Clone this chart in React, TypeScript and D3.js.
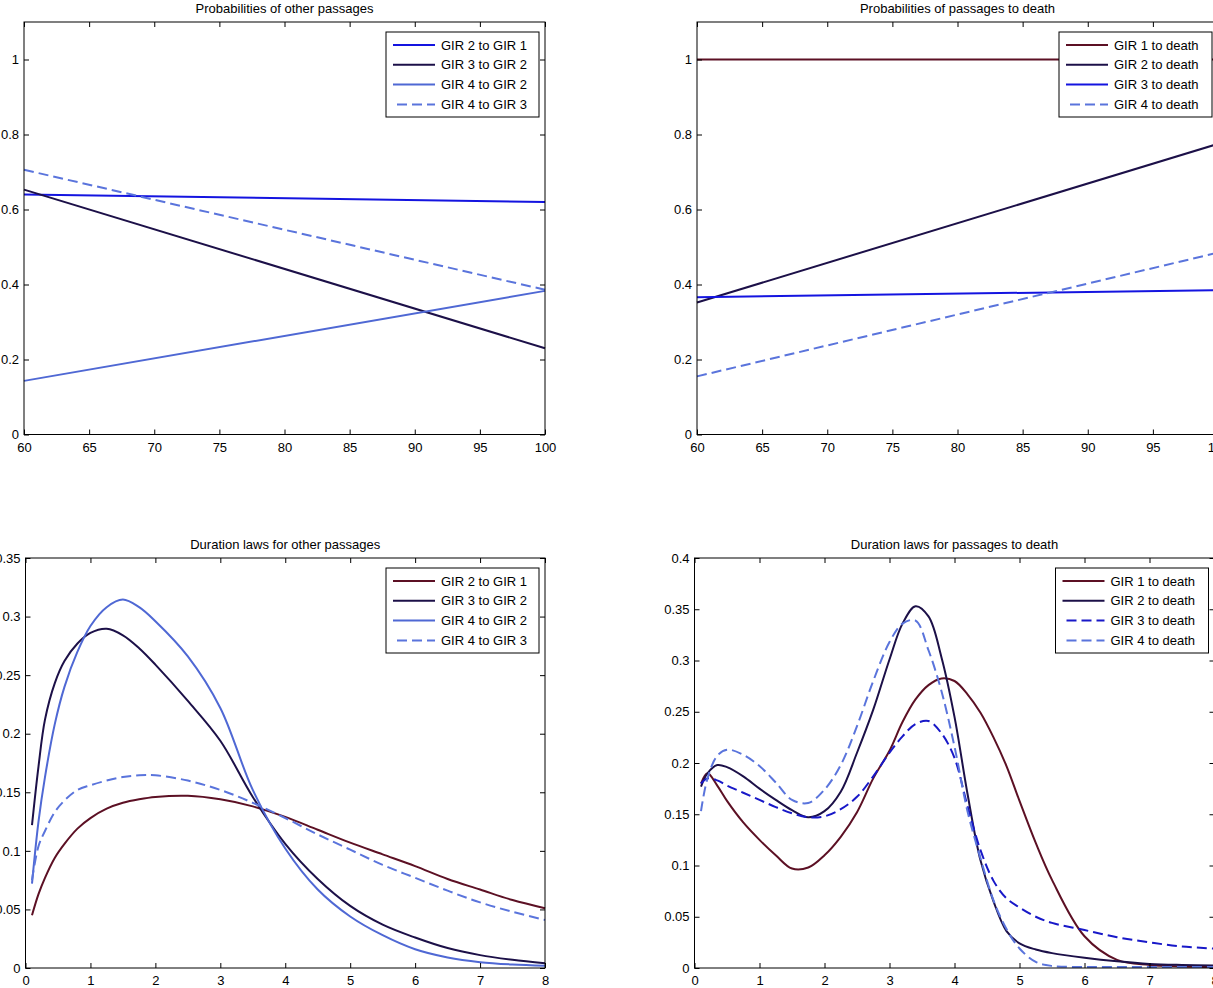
import React, { useEffect, useRef } from "react";
import * as d3 from "d3";

// ages (years) for the probability panels
const ageX = [60, 100];
const ageTicks = [60, 65, 70, 75, 80, 85, 90, 95, 100];
const probTicks = [0, 0.2, 0.4, 0.6, 0.8, 1];

const otherLabels = ["GIR 2 to GIR 1", "GIR 3 to GIR 2", "GIR 4 to GIR 2", "GIR 4 to GIR 3"];
const deathLabels = ["GIR 1 to death", "GIR 2 to death", "GIR 3 to death", "GIR 4 to death"];

const otherProb21 = [0.64, 0.62];
const otherProb32 = [0.653, 0.23];
const otherProb42 = [0.143, 0.383];
const otherProb43 = [0.706, 0.386];

const deathProb1 = [1, 1];
const deathProb2 = [0.352, 0.775];
const deathProb3 = [0.366, 0.385];
const deathProb4 = [0.155, 0.485];

// durations (years)
const durTicks = [0, 1, 2, 3, 4, 5, 6, 7, 8];
const otherDurTicks = [0, 0.05, 0.1, 0.15, 0.2, 0.25, 0.3, 0.35];
const deathDurTicks = [0, 0.05, 0.1, 0.15, 0.2, 0.25, 0.3, 0.35, 0.4];

const otherDurX = [0.1, 0.2, 0.3, 0.45, 0.6, 0.8, 1, 1.25, 1.5, 1.75, 2, 2.5, 3, 3.5, 4, 4.5, 5, 5.5, 6, 6.5, 7, 7.5, 8];
const otherDur21 = [0.045, 0.063, 0.077, 0.094, 0.106, 0.119, 0.128, 0.136, 0.141, 0.144, 0.146, 0.147, 0.144, 0.138, 0.129, 0.118, 0.107, 0.097, 0.087, 0.076, 0.067, 0.058, 0.051];
const otherDur32 = [0.122, 0.172, 0.212, 0.243, 0.262, 0.277, 0.286, 0.2895, 0.284, 0.273, 0.259, 0.228, 0.194, 0.146, 0.106, 0.076, 0.053, 0.037, 0.026, 0.017, 0.011, 0.007, 0.004];
const otherDur42 = [0.072, 0.125, 0.163, 0.208, 0.24, 0.27, 0.292, 0.308, 0.3145, 0.308, 0.296, 0.266, 0.222, 0.152, 0.102, 0.067, 0.044, 0.028, 0.016, 0.009, 0.005, 0.003, 0.002];
const otherDur43 = [0.075, 0.104, 0.117, 0.133, 0.143, 0.152, 0.156, 0.16, 0.163, 0.1645, 0.1645, 0.16, 0.152, 0.141, 0.128, 0.114, 0.101, 0.088, 0.077, 0.066, 0.056, 0.048, 0.041];

const deathDurX = [0.1, 0.2, 0.35, 0.5, 0.75, 1, 1.25, 1.5, 1.75, 2, 2.25, 2.5, 2.75, 3, 3.2, 3.4, 3.6, 3.8, 4, 4.2, 4.4, 4.6, 4.8, 5, 5.25, 5.5, 6, 6.5, 7, 7.5, 8];
const deathDur1 = [0.18, 0.19, 0.178, 0.163, 0.142, 0.125, 0.11, 0.097, 0.098, 0.11, 0.128, 0.152, 0.185, 0.212, 0.24, 0.262, 0.276, 0.2825, 0.28, 0.267, 0.249, 0.225, 0.197, 0.163, 0.122, 0.086, 0.031, 0.008, 0.003, 0.0015, 0.001];
const deathDur2 = [0.177, 0.19, 0.198, 0.196, 0.187, 0.175, 0.164, 0.154, 0.147, 0.153, 0.172, 0.21, 0.252, 0.301, 0.336, 0.353, 0.343, 0.303, 0.245, 0.17, 0.105, 0.065, 0.036, 0.024, 0.018, 0.0145, 0.01, 0.0065, 0.004, 0.003, 0.0025];
const deathDur3 = [0.18, 0.185, 0.183, 0.178, 0.171, 0.164, 0.157, 0.151, 0.147, 0.148, 0.155, 0.167, 0.187, 0.21, 0.226, 0.238, 0.241, 0.229, 0.205, 0.158, 0.115, 0.085, 0.068, 0.059, 0.05, 0.044, 0.037, 0.03, 0.025, 0.021, 0.019];
const deathDur4 = [0.153, 0.185, 0.207, 0.213, 0.208, 0.197, 0.181, 0.164, 0.161, 0.174, 0.198, 0.236, 0.28, 0.318, 0.336, 0.339, 0.31, 0.27, 0.216, 0.153, 0.107, 0.066, 0.038, 0.019, 0.006, 0.002, 0.001, 0.001, 0.001, 0.001, 0.001];

const FONT = '"Liberation Sans", Arial, Helvetica, sans-serif';
const MAROON = "#5c1024";
const DARK = "#1c1048";
const BLUE = "#1414e0";
const SLATE = "#4f68d4";
const LIGHT = "#5a74dc";
const DBLUE = "#1818c8";

const panels = [
  {
    title: "Probabilities of other passages",
    left: 24, right: 545, top: 22, bottom: 434.5,
    xDomain: [60, 100], yDomain: [0, 1.1], xTicks: ageTicks, yTicks: probTicks,
    series: [
      { label: otherLabels[0], xs: ageX, ys: otherProb21, color: BLUE, dash: false },
      { label: otherLabels[1], xs: ageX, ys: otherProb32, color: DARK, dash: false },
      { label: otherLabels[2], xs: ageX, ys: otherProb42, color: SLATE, dash: false },
      { label: otherLabels[3], xs: ageX, ys: otherProb43, color: LIGHT, dash: true },
    ],
  },
  {
    title: "Probabilities of passages to death",
    left: 697, right: 1218, top: 22, bottom: 434.5,
    xDomain: [60, 100], yDomain: [0, 1.1], xTicks: ageTicks, yTicks: probTicks,
    series: [
      { label: deathLabels[0], xs: ageX, ys: deathProb1, color: MAROON, dash: false },
      { label: deathLabels[1], xs: ageX, ys: deathProb2, color: DARK, dash: false },
      { label: deathLabels[2], xs: ageX, ys: deathProb3, color: BLUE, dash: false },
      { label: deathLabels[3], xs: ageX, ys: deathProb4, color: LIGHT, dash: true },
    ],
  },
  {
    title: "Duration laws for other passages",
    left: 25.5, right: 545, top: 558, bottom: 968,
    xDomain: [0, 8], yDomain: [0, 0.35], xTicks: durTicks, yTicks: otherDurTicks,
    series: [
      { label: otherLabels[0], xs: otherDurX, ys: otherDur21, color: MAROON, dash: false },
      { label: otherLabels[1], xs: otherDurX, ys: otherDur32, color: DARK, dash: false },
      { label: otherLabels[2], xs: otherDurX, ys: otherDur42, color: SLATE, dash: false },
      { label: otherLabels[3], xs: otherDurX, ys: otherDur43, color: LIGHT, dash: true },
    ],
  },
  {
    title: "Duration laws for passages to death",
    left: 694.5, right: 1214.5, top: 558, bottom: 968,
    xDomain: [0, 8], yDomain: [0, 0.4], xTicks: durTicks, yTicks: deathDurTicks,
    series: [
      { label: deathLabels[0], xs: deathDurX, ys: deathDur1, color: MAROON, dash: false },
      { label: deathLabels[1], xs: deathDurX, ys: deathDur2, color: DARK, dash: false },
      { label: deathLabels[2], xs: deathDurX, ys: deathDur3, color: DBLUE, dash: true },
      { label: deathLabels[3], xs: deathDurX, ys: deathDur4, color: LIGHT, dash: true },
    ],
  },
];

function drawPanel(svg: any, p: any) {
  const x = d3.scaleLinear().domain(p.xDomain).range([p.left, p.right]);
  const y = d3.scaleLinear().domain(p.yDomain).range([p.bottom, p.top]);
  const g = svg.append("g");

  // curves
  p.series.forEach((s: any) => {
    const line = d3
      .line<number>()
      .x((d, i) => x(s.xs[i]))
      .y((d) => y(d))
      .curve(d3.curveCatmullRom.alpha(0.5));
    g.append("path")
      .attr("d", line(s.ys))
      .attr("fill", "none")
      .attr("stroke", s.color)
      .attr("stroke-width", 2)
      .attr("stroke-dasharray", s.dash ? "10,5" : null);
  });

  const fmt = (d: any) => String(d);
  const styleAxis = (a: any) => {
    a.select(".domain").remove();
    a.attr("font-family", FONT).attr("font-size", 13);
    a.selectAll("line").attr("stroke", "#000");
    a.selectAll("text").attr("fill", "#000");
  };

  g.append("g")
    .attr("transform", `translate(0,${p.bottom})`)
    .call(d3.axisBottom(x).tickValues(p.xTicks).tickFormat(fmt).tickSize(-5).tickSizeOuter(0).tickPadding(8))
    .call(styleAxis);
  g.append("g")
    .attr("transform", `translate(0,${p.top})`)
    .call(d3.axisTop(x).tickValues(p.xTicks).tickFormat(() => "").tickSize(-5).tickSizeOuter(0))
    .call(styleAxis);
  g.append("g")
    .attr("transform", `translate(${p.left},0)`)
    .call(d3.axisLeft(y).tickValues(p.yTicks).tickFormat(fmt).tickSize(-5).tickSizeOuter(0).tickPadding(5))
    .call(styleAxis);
  g.append("g")
    .attr("transform", `translate(${p.right},0)`)
    .call(d3.axisRight(y).tickValues(p.yTicks).tickFormat(() => "").tickSize(-5).tickSizeOuter(0))
    .call(styleAxis);

  g.append("rect")
    .attr("x", p.left)
    .attr("y", p.top)
    .attr("width", p.right - p.left)
    .attr("height", p.bottom - p.top)
    .attr("fill", "none")
    .attr("stroke", "#000")
    .attr("stroke-width", 1);

  g.append("text")
    .attr("x", (p.left + p.right) / 2)
    .attr("y", p.top - 9.5)
    .attr("text-anchor", "middle")
    .attr("font-family", FONT)
    .attr("font-size", 13)
    .text(p.title);

  // legend
  const lw = 153;
  const lh = 85;
  const lx = p.right - 6 - lw;
  const ly = p.top + 10;
  const leg = g.append("g").attr("transform", `translate(${lx},${ly})`);
  leg.append("rect")
    .attr("width", lw)
    .attr("height", lh)
    .attr("fill", "#fff")
    .attr("stroke", "#000")
    .attr("stroke-width", 1);
  p.series.forEach((s: any, i: number) => {
    const ry = 13 + i * 19.8;
    leg.append("line")
      .attr("x1", 7)
      .attr("x2", 49)
      .attr("y1", ry)
      .attr("y2", ry)
      .attr("stroke", s.color)
      .attr("stroke-width", 2)
      .attr("stroke-dasharray", s.dash ? "10,5" : null)
      .attr("stroke-dashoffset", s.dash ? -4 : null);
    leg.append("text")
      .attr("x", 55)
      .attr("y", ry)
      .attr("dy", "0.36em")
      .attr("font-family", FONT)
      .attr("font-size", 13)
      .text(s.label);
  });
}

function App() {
  const ref = useRef<SVGSVGElement>(null);

  useEffect(() => {
    const svg = d3.select(ref.current);
    svg.selectAll("*").remove();
    panels.forEach((p) => drawPanel(svg, p));
  }, []);

  return (
    <svg
      ref={ref}
      width={1213}
      height={988}
      style={{ position: "absolute", left: 0, top: 0, background: "#fff" }}
    />
  );
}

export default App;
